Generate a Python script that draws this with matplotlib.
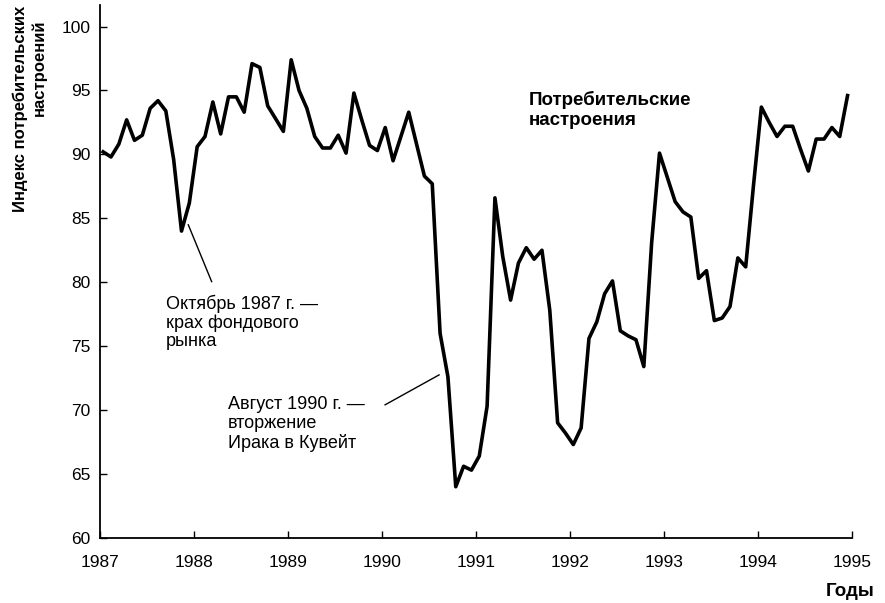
import numpy as np
import matplotlib.pyplot as plt

plt.rcParams['font.family'] = ['Liberation Sans', 'DejaVu Sans']

# monthly index values
s1987 = [90.2, 89.8, 90.8, 92.7, 91.1, 91.5, 93.6, 94.2, 93.4, 89.6, 84.0, 86.2]
s1988 = [90.6, 91.4, 94.1, 91.6, 94.5, 94.5, 93.3, 97.1, 96.8, 93.8, 92.8, 91.8]
s1989 = [97.4, 95.0, 93.6, 91.4, 90.5, 90.5, 91.5, 90.1, 94.8, 92.7, 90.7, 90.3]
s1990 = [92.1, 89.5, 91.4, 93.3, 90.8, 88.3, 87.7, 76.0, 72.6, 64.0, 65.6, 65.3]
s1991 = [66.4, 70.3, 86.6, 82.0, 78.6, 81.5, 82.7, 81.8, 82.5, 77.8, 69.0, 68.2]
s1992 = [67.3, 68.6, 75.6, 76.9, 79.1, 80.1, 76.2, 75.8, 75.5, 73.4, 83.1, 90.1]
s1993 = [88.2, 86.3, 85.5, 85.1, 80.3, 80.9, 77.0, 77.2, 78.1, 81.9, 81.2, 87.6]
s1994 = [93.7, 92.5, 91.4, 92.2, 92.2, 90.4, 88.7, 91.2, 91.2, 92.1, 91.4, 94.6]

years = [1987, 1988, 1989, 1990, 1991, 1992, 1993, 1994, 1995]
yticks = [60, 65, 70, 75, 80, 85, 90, 95, 100]

values = np.concatenate([s1987, s1988, s1989, s1990, s1991, s1992, s1993, s1994])
months = np.arange(len(values))
x = 1987 + (months + 0.4) / 12

fig = plt.figure(figsize=(8.85, 6.03), dpi=100)
ax = fig.add_axes([0.113, 0.108, 0.85, 0.884])

ax.plot(x, values, color='black', lw=2.6)

ax.set_xlim(1987, 1995)
ax.set_ylim(60, 101.7)
ax.set_xticks(years)
ax.set_yticks(yticks)
ax.tick_params(direction='in', length=5, width=1, labelsize=12.5)
ax.tick_params(axis='x', pad=12)
ax.tick_params(axis='y', pad=7)
for s in ['top', 'right']:
    ax.spines[s].set_visible(False)
for s in ['left', 'bottom']:
    ax.spines[s].set_linewidth(1.3)

# annotations
ax.text(1987.70, 79.0, 'Октябрь 1987 г. —\nкрах фондового\nрынка',
        fontsize=13, ha='left', va='top', linespacing=1.1)
ax.plot([1987.939, 1988.187], [84.49, 80.05], color='black', lw=1)

ax.text(1988.358, 71.1, 'Август 1990 г. —\nвторжение\nИрака в Кувейт',
        fontsize=13, ha='left', va='top', linespacing=1.15)
ax.plot([1990.032, 1990.606], [70.41, 72.75], color='black', lw=1)

ax.text(1991.56, 94.95, 'Потребительские\nнастроения',
        fontsize=13.5, fontweight='bold', ha='left', va='top', linespacing=1.2)

fig.text(0.961, 0.012, 'Годы', fontsize=13.5, fontweight='bold',
         ha='center', va='baseline')
fig.text(0.0226, 0.819, 'Индекс потребительских', fontsize=12,
         fontweight='bold', rotation=90, ha='center', va='center')
fig.text(0.044, 0.888, 'настроений', fontsize=12,
         fontweight='bold', rotation=90, ha='center', va='center')

fig.savefig('out.png', dpi=100)
